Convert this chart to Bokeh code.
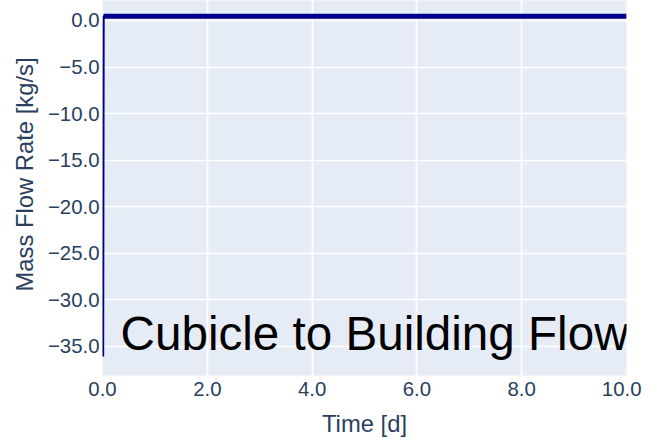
from bokeh.plotting import figure
from bokeh.models import Range1d, FixedTicker, Label, Title
from bokeh.embed import file_html
from bokeh.resources import INLINE

# ---- data ----
time_d = [0.01, 0.02, 10.0]
flow_kg_s = [-36.1, 0.45, 0.45]

x_ticks = [0, 2, 4, 6, 8, 10]
x_tick_labels = ["0.0", "2.0", "4.0", "6.0", "8.0", "10.0"]
y_ticks = [0, -5, -10, -15, -20, -25, -30, -35]
y_tick_labels = ["0.0", "\u22125.0", "\u221210.0", "\u221215.0", "\u221220.0",
                 "\u221225.0", "\u221230.0", "\u221235.0"]

title_text = "Cubicle to Building Flow"
x_title = "Time [d]"
y_title = "Mass Flow Rate [kg/s]"

FONT = "Liberation Sans"
AXIS_COLOR = "#2a3f5f"

p = figure(width=641, height=443, output_backend="svg", toolbar_location=None,
           x_range=Range1d(0, 10), y_range=Range1d(-38.13, 2.148),
           min_border_left=102, min_border_right=15, min_border_top=0,
           min_border_bottom=68)

p.background_fill_color = "#E5ECF6"
p.border_fill_color = "white"
p.outline_line_color = None

p.line(time_d, flow_kg_s, line_color="darkblue", line_width=2.3)
p.line(time_d[1:], flow_kg_s[1:], line_color="darkblue", line_width=5)

for ax in (p.xaxis, p.yaxis):
    ax.axis_line_color = None
    ax.major_tick_line_color = None
    ax.minor_tick_line_color = None
    ax.major_tick_out = 0
    ax.major_tick_in = 0
    ax.major_label_text_font = FONT
    ax.major_label_text_font_size = "20.4px"
    ax.major_label_text_color = AXIS_COLOR

p.xaxis.ticker = FixedTicker(ticks=x_ticks)
p.xaxis.major_label_overrides = {t: l for t, l in zip(x_ticks, x_tick_labels)}
p.xaxis.major_label_standoff = 6
p.xaxis.axis_label = x_title
p.xaxis.axis_label_standoff = 11
p.xaxis.axis_label_text_font = FONT
p.xaxis.axis_label_text_font_size = "23.8px"
p.xaxis.axis_label_text_font_style = "normal"
p.xaxis.axis_label_text_color = AXIS_COLOR

p.yaxis.ticker = FixedTicker(ticks=y_ticks)
p.yaxis.major_label_overrides = {t: l for t, l in zip(y_ticks, y_tick_labels)}
p.yaxis.major_label_standoff = 3

p.xgrid.grid_line_color = "white"
p.ygrid.grid_line_color = "white"
p.xgrid.grid_line_width = 1.7
p.ygrid.grid_line_width = 1.7

p.add_layout(Title(text=y_title, align="right", offset=57, standoff=14,
                   text_font=FONT, text_font_size="23.8px",
                   text_font_style="normal", text_color=AXIS_COLOR), "left")
p.add_layout(Label(x=10, y=-33.6, x_offset=2, text=title_text, text_align="right",
                   text_baseline="alphabetic", text_font=FONT,
                   text_font_size="47.6px", text_color="black"))

open("out.html", "w").write(file_html(p, INLINE))
